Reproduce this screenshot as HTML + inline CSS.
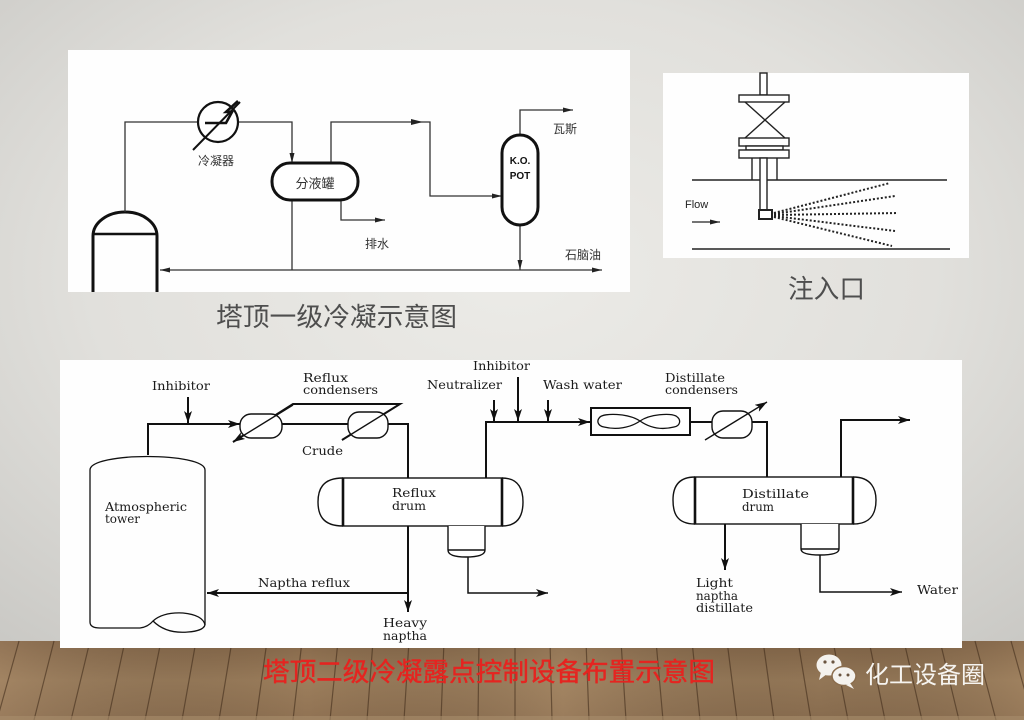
<!DOCTYPE html>
<html><head><meta charset="utf-8">
<style>
html,body{margin:0;padding:0;}
body{width:1024px;height:720px;overflow:hidden;position:relative;background:radial-gradient(ellipse 75% 70% at 50% 38%,#ecebe7 0%,#e1e0dc 55%,#c9c8c4 100%);}
svg{position:absolute;left:0;top:0;}
.cj{font-family:"Liberation Sans","Noto Sans CJK SC",sans-serif;}
.en{font-family:"DejaVu Serif","Liberation Serif",serif;font-size:12.5px;fill:#1a1a1a;}
</style></head><body>
<svg width="1024" height="720" viewBox="0 0 1024 720" xmlns="http://www.w3.org/2000/svg">
<defs>
  <marker id="ab" viewBox="0 0 12 8" refX="12" refY="4" markerWidth="12" markerHeight="8" markerUnits="userSpaceOnUse" orient="auto-start-reverse">
    <path d="M0,0 L12,4 L0,8 L3,4z" fill="#111"/>
  </marker>
  <marker id="as" viewBox="0 0 10 5" refX="10" refY="2.5" markerWidth="10" markerHeight="5" markerUnits="userSpaceOnUse" orient="auto-start-reverse">
    <path d="M0,0 L10,2.5 L0,5z" fill="#222"/>
  </marker>
  <linearGradient id="wood" x1="0" y1="0" x2="0" y2="1">
    <stop offset="0" stop-color="#86684a"/>
    <stop offset="0.5" stop-color="#9c7e5c"/>
    <stop offset="1" stop-color="#907253"/>
  </linearGradient>
  <linearGradient id="woodh" x1="0" y1="0" x2="1" y2="0">
    <stop offset="0" stop-color="#b09272" stop-opacity="0.3"/>
    <stop offset="0.3" stop-color="#000" stop-opacity="0"/>
    <stop offset="0.55" stop-color="#b89a76" stop-opacity="0.25"/>
    <stop offset="0.8" stop-color="#000" stop-opacity="0.06"/>
    <stop offset="1" stop-color="#a78a68" stop-opacity="0.25"/>
  </linearGradient>
</defs>

<!-- wood floor -->
<rect x="0" y="641" width="1024" height="79" fill="url(#wood)"/>
<rect x="0" y="641" width="1024" height="79" fill="url(#woodh)"/>
<path fill="none" stroke="#3a2716" stroke-opacity="0.55" stroke-width="1.2" d="
M-16,641 L-40,720 M19,641 L-3,720 M54,641 L34,720 M90,641 L71,720 M125,641 L108,720 M161,641 L145,720
M196,641 L182,720 M232,641 L219,720 M267,641 L256,720 M302,641 L293,720 M338,641 L330,720 M373,641 L367,720
M409,641 L404,720 M444,641 L441,720 M479,641 L478,720 M515,641 L515,720 M550,641 L552,720 M586,641 L589,720
M621,641 L626,720 M656,641 L663,720 M692,641 L700,720 M727,641 L737,720 M763,641 L774,720 M798,641 L811,720
M833,641 L848,720 M869,641 L885,720 M904,641 L922,720 M940,641 L959,720 M975,641 L996,720 M1011,641 L1033,720"/>
<rect x="0" y="716" width="1024" height="4" fill="#a88d6c" opacity="0.6"/>

<!-- ================= TOP-LEFT PANEL ================= -->
<rect x="68" y="50" width="562" height="242" fill="#fefefe"/>
<g fill="none" stroke="#111">
  <path d="M93,292 V236 A32,24 0 0 1 157,236 V292" stroke-width="3"/>
  <path d="M93,234 H157" stroke-width="2.5"/>
</g>
<g fill="none" stroke="#333" stroke-width="1.3">
  <path d="M125,212 V122 H198"/>
  <path d="M238,122 H292 V163" marker-end="url(#as)"/>
  <path d="M292,200 V270"/>
  <path d="M341,200 V220 H385" marker-end="url(#as)"/>
  <path d="M331,163 V122 H430 V196 H502" marker-end="url(#as)"/>
  <path d="M520,135 V110 H573" marker-end="url(#as)"/>
  <path d="M520,225 V270" marker-end="url(#as)"/>
  <path d="M160,270 H602" marker-start="url(#as)" marker-end="url(#as)"/>
</g>
<path d="M411,119 L423,122 L411,125z" fill="#222"/>
<circle cx="218" cy="122" r="20" fill="#fff" stroke="#111" stroke-width="2.2"/>
<path d="M193,150 L240,102" stroke="#111" stroke-width="2" fill="none"/>
<polyline points="205,123 226,123 232,112 226,112 238,101" fill="none" stroke="#111" stroke-width="2.6"/>
<rect x="272" y="163" width="86" height="37" rx="18" fill="#fff" stroke="#111" stroke-width="3"/>
<rect x="502" y="135" width="36" height="90" rx="18" fill="#fff" stroke="#111" stroke-width="3"/>
<g class="cj" fill="#333" text-anchor="middle">
  <text x="216" y="165" font-size="12">冷凝器</text>
  <text x="315" y="188" font-size="13">分液罐</text>
  <text x="377" y="248" font-size="12">排水</text>
  <text x="565" y="133" font-size="12">瓦斯</text>
  <text x="583" y="259" font-size="12">石脑油</text>
  <text x="520" y="164" font-size="10" font-weight="bold" fill="#111">K.O.</text>
  <text x="520" y="179" font-size="10" font-weight="bold" fill="#111">POT</text>
</g>
<text class="cj" x="216" y="326" font-size="26" fill="#4e4e4e" textLength="241" lengthAdjust="spacingAndGlyphs">塔顶一级冷凝示意图</text>

<!-- ================= TOP-RIGHT PANEL ================= -->
<rect x="663" y="73" width="306" height="185" fill="#fefefe"/>
<g fill="#fff" stroke="#222" stroke-width="1.4">
  <path d="M692,180 H947 M692,249 H950" fill="none" stroke-width="1.6"/>
  <rect x="760" y="73" width="7" height="22"/>
  <rect x="739" y="95" width="50" height="7"/>
  <path d="M745,102 L785,138 M785,102 L745,138" fill="none"/>
  <rect x="739" y="138" width="50" height="8"/>
  <rect x="746" y="146" width="37" height="4"/>
  <rect x="739" y="150" width="50" height="8"/>
  <path d="M752,158 V180 M777,158 V180" fill="none"/>
  <rect x="760" y="158" width="7" height="52"/>
  <rect x="759" y="210" width="13" height="9" stroke-width="2"/>
</g>
<g stroke="#222" stroke-width="2" stroke-dasharray="2,2" fill="none">
  <path d="M774,213 L890,183"/>
  <path d="M774,214 L895,196"/>
  <path d="M774,215 L898,213"/>
  <path d="M774,216 L895,231"/>
  <path d="M774,217 L892,246"/>
</g>
<text x="685" y="208" font-family="Liberation Sans, sans-serif" font-size="11" fill="#222">Flow</text>
<path d="M692,222 H720" stroke="#222" stroke-width="1.3" marker-end="url(#as)"/>
<text class="cj" x="788" y="298" font-size="26" fill="#4e4e4e" textLength="77" lengthAdjust="spacingAndGlyphs">注入口</text>

<!-- ================= BOTTOM PANEL ================= -->
<rect x="60" y="360" width="902" height="288" fill="#fefefe"/>

<!-- atmospheric tower -->
<g fill="none" stroke="#111" stroke-width="1.3">
  <path d="M90,622 V470 C90,452 205,452 205,470 V625"/>
  <path d="M90,622 Q90,628 100,628 L140,628 Q148,627 153,621 Q163,612 183,613 Q203,615 205,625"/>
  <path d="M153,621 Q166,634 188,632 Q203,631 205,625"/>
</g>
<!-- flow lines -->
<g fill="none" stroke="#111" stroke-width="2">
  <path d="M148,455 V424 H240" marker-end="url(#ab)"/>
  <path d="M188,397 V423" marker-end="url(#ab)"/>
  <path d="M282,424 H348"/>
  <path d="M342,440 L400,404 H293 L233,442" marker-end="url(#ab)"/>
  <path d="M388,424 H408 V478"/>
  <path d="M408,526 V612" marker-end="url(#ab)"/>
  <path d="M408,593 H207" marker-end="url(#ab)"/>
  <path d="M468,557 V593 H548" marker-end="url(#ab)" stroke-width="1.5"/>
  <path d="M486,478 V422 H590" marker-end="url(#ab)"/>
  <path d="M494,400 V421" marker-end="url(#ab)"/>
  <path d="M518,377 V421" marker-end="url(#ab)"/>
  <path d="M548,400 V421" marker-end="url(#ab)"/>
  <path d="M690,422 H712"/>
  <path d="M752,422 H767 V477"/>
  <path d="M841,477 V420 H910" marker-end="url(#ab)"/>
  <path d="M725,524 V570" marker-end="url(#ab)"/>
  <path d="M820,555 V592 H902" marker-end="url(#ab)" stroke-width="1.5"/>
</g>
<!-- condensers -->
<g fill="#fff" stroke="#111" stroke-width="1.4">
  <rect x="240" y="414" width="42" height="24" rx="11"/>
  <rect x="348" y="412" width="40" height="26" rx="11"/>
  <rect x="712" y="411" width="40" height="27" rx="11"/>
</g>
<g fill="none" stroke="#111" stroke-width="1.4">
  <path d="M293,405 L233,442"/>
  <path d="M342,440 L400,404"/>
</g>
<path d="M705,440 L767,402" stroke="#111" stroke-width="1.4" marker-end="url(#ab)"/>
<!-- fan box -->
<rect x="591" y="408" width="99" height="27" fill="#fff" stroke="#111" stroke-width="2"/>
<path d="M640,421 C628,413 604,413 600,417 C596,421 598,426 604,427 C616,430 630,428 640,421 C650,414 670,413 676,416 C682,420 680,426 674,427 C662,430 650,428 640,421z" fill="none" stroke="#111" stroke-width="1.3"/>
<!-- drums -->
<g fill="#fff" stroke="#111" stroke-width="1.4">
  <path d="M343,478 C322,478 318,490 318,502 C318,514 322,526 343,526"/>
  <path d="M502,478 C519,478 523,490 523,502 C523,514 519,526 502,526"/>
  <rect x="343" y="478" width="159" height="48"/>
  <path d="M448,526 V550 Q448,557 466,557 Q485,557 485,550 V526 M448,550 H485"/>
  <path d="M695,477 C676,477 673,490 673,500 C673,512 676,524 695,524"/>
  <path d="M853,477 C872,477 876,490 876,500 C876,512 872,524 853,524"/>
  <rect x="695" y="477" width="158" height="47"/>
  <path d="M801,524 V549 Q801,555 820,555 Q839,555 839,549 V524 M801,549 H839"/>
</g>
<g stroke="#111" stroke-width="2.6">
  <path d="M343,478 V526 M502,478 V526 M695,477 V524 M853,477 V524"/>
</g>
<!-- bottom labels -->
<g class="en">
  <text x="152" y="390" textLength="58" lengthAdjust="spacingAndGlyphs">Inhibitor</text>
  <text x="303" y="382" textLength="45" lengthAdjust="spacingAndGlyphs">Reflux</text>
  <text x="303" y="394" textLength="75" lengthAdjust="spacingAndGlyphs">condensers</text>
  <text x="302" y="455" textLength="41" lengthAdjust="spacingAndGlyphs">Crude</text>
  <text x="105" y="511" textLength="82" lengthAdjust="spacingAndGlyphs">Atmospheric</text>
  <text x="105" y="523" textLength="35" lengthAdjust="spacingAndGlyphs">tower</text>
  <text x="258" y="587" textLength="92" lengthAdjust="spacingAndGlyphs">Naptha reflux</text>
  <text x="392" y="497" textLength="44" lengthAdjust="spacingAndGlyphs">Reflux</text>
  <text x="392" y="510" textLength="34" lengthAdjust="spacingAndGlyphs">drum</text>
  <text x="383" y="627" textLength="44" lengthAdjust="spacingAndGlyphs">Heavy</text>
  <text x="383" y="640" textLength="44" lengthAdjust="spacingAndGlyphs">naptha</text>
  <text x="473" y="370" textLength="57" lengthAdjust="spacingAndGlyphs">Inhibitor</text>
  <text x="427" y="389" textLength="75" lengthAdjust="spacingAndGlyphs">Neutralizer</text>
  <text x="543" y="389" textLength="79" lengthAdjust="spacingAndGlyphs">Wash water</text>
  <text x="665" y="382" textLength="60" lengthAdjust="spacingAndGlyphs">Distillate</text>
  <text x="665" y="394" textLength="73" lengthAdjust="spacingAndGlyphs">condensers</text>
  <text x="742" y="498" textLength="67" lengthAdjust="spacingAndGlyphs">Distillate</text>
  <text x="742" y="511" textLength="32" lengthAdjust="spacingAndGlyphs">drum</text>
  <text x="696" y="587" textLength="37" lengthAdjust="spacingAndGlyphs">Light</text>
  <text x="696" y="600" textLength="42" lengthAdjust="spacingAndGlyphs">naptha</text>
  <text x="696" y="612" textLength="57" lengthAdjust="spacingAndGlyphs">distillate</text>
  <text x="917" y="594" textLength="41" lengthAdjust="spacingAndGlyphs">Water</text>
</g>

<!-- red caption -->
<text class="cj" x="263" y="681" font-size="26" fill="#e52420" stroke="#e52420" stroke-width="0.4" textLength="452" lengthAdjust="spacingAndGlyphs">塔顶二级冷凝露点控制设备布置示意图</text>

<!-- wechat logo -->
<g>
  <ellipse cx="829" cy="665" rx="12.5" ry="10.5" fill="#f4f2ee"/>
  <path d="M821,672 L819,680 L827,674z" fill="#f4f2ee"/>
  <circle cx="825" cy="662" r="1.6" fill="#6a5540"/>
  <circle cx="833" cy="662" r="1.6" fill="#6a5540"/>
  <ellipse cx="844" cy="676" rx="12" ry="9.5" fill="#f4f2ee" stroke="#8a6c4c" stroke-width="1.5"/>
  <path d="M850,683 L854,689 L846,685z" fill="#f4f2ee"/>
  <circle cx="840" cy="675" r="1.5" fill="#6a5540"/>
  <circle cx="848" cy="675" r="1.5" fill="#6a5540"/>
</g>
<text class="cj" x="865" y="683" font-size="24" fill="#f6f4f0" textLength="120" lengthAdjust="spacingAndGlyphs">化工设备圈</text>
</svg>
</body></html>
